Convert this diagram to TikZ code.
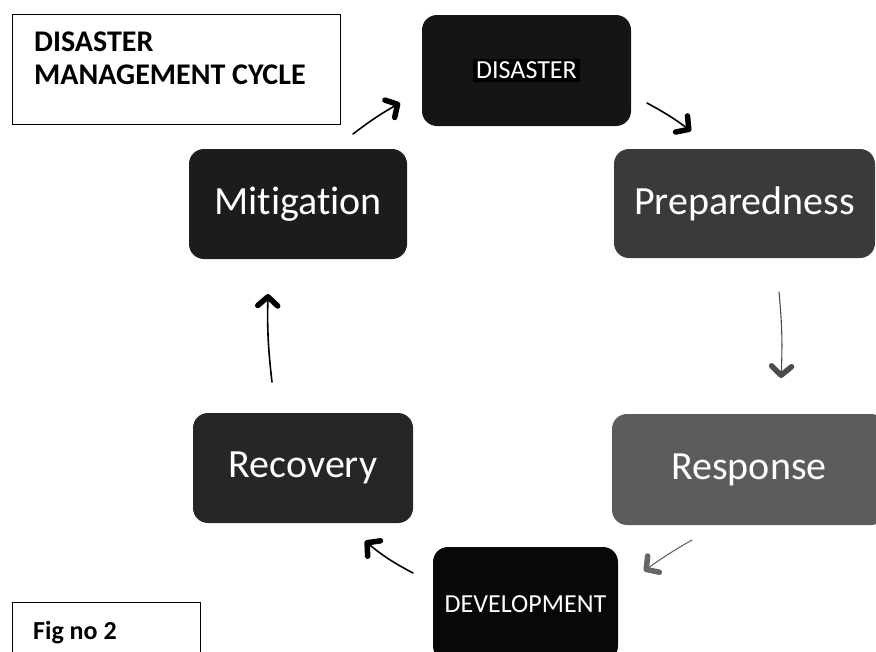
\documentclass[tikz,border=0pt]{standalone}
\usepackage{fontspec}
\setmainfont{Carlito}[Ligatures=NoCommon]
\usetikzlibrary{arrows.meta}
\definecolor{boxA}{HTML}{151515}
\definecolor{boxB}{HTML}{3A3A3A}
\definecolor{boxC}{HTML}{5C5C5C}
\definecolor{boxD}{HTML}{1C1C1C}
\definecolor{boxE}{HTML}{262626}
\definecolor{boxF}{HTML}{080808}
\tikzset{
  phase/.style={rounded corners=15pt, inner sep=0pt, text=white,
    font=\fontsize{40pt}{48pt}\selectfont},
  smallphase/.style={phase, font=\fontsize{26pt}{31pt}\selectfont},
  cyc/.style={line width=1.6pt, line cap=round,
    -{Straight Barb[length=9pt,width=20pt,line width=5.5pt,round]}},
  frame/.style={draw, line width=1.4pt, inner sep=0pt, anchor=north west},
  caption/.style={inner sep=0pt, font=\fontsize{30pt}{33pt}\selectfont\bfseries}
}
\begin{document}
\begin{tikzpicture}[x=1pt,y=-1pt]
\useasboundingbox (0,0) rectangle (876,651);

% title and figure label
\node[frame, minimum width=328pt, minimum height=110pt] (titlebox) at (12,14) {};
\node[caption, anchor=north west, align=left] (titletext) at (34,32) {DISASTER\\MANAGEMENT CYCLE};
\node[frame, minimum width=188pt, minimum height=80pt] (figbox) at (12,602) {};
\node[caption, anchor=base west, font=\fontsize{26pt}{31pt}\selectfont\bfseries] (figtext) at (33,639) {Fig no 2};

% the six phases
\node[smallphase, fill=boxA, minimum width=209pt, minimum height=111pt] (dis) at (526.5,70.5)
  {\colorbox{black}{DISASTER}};
\node[phase, fill=boxB, minimum width=261pt, minimum height=109pt] (prep) at (744.5,203.5) {Preparedness};
\node[phase, fill=boxC, minimum width=274pt, minimum height=111pt] (resp) at (749,469.5) {Response};
\node[smallphase, fill=boxF, minimum width=185pt, minimum height=114pt] (dev) at (525.5,604) {DEVELOPMENT};
\node[phase, fill=boxE, minimum width=220pt, minimum height=110pt] (rec) at (303,468) {Recovery};
\node[phase, fill=boxD, minimum width=218pt, minimum height=110pt] (mit) at (298,204) {Mitigation};

% arrow end points
\coordinate (m1) at (353,134);  \coordinate (d1) at (400,103);
\coordinate (d2) at (647,103);  \coordinate (p1) at (691,131);
\coordinate (p2) at (779,292);  \coordinate (r1) at (781,378);
\coordinate (r2) at (692,540);  \coordinate (v1) at (644,571);
\coordinate (v2) at (413,573);  \coordinate (c1) at (365,541);
\coordinate (c2) at (272,382);  \coordinate (m2) at (268,294);

% cycle arrows
\draw[cyc] (m1) to[bend left=4] (d1);
\draw[cyc] (d2) to[bend left=4] (p1);
\draw[cyc, draw=black!70, line width=1.1pt] (p2) to[bend left=4] (r1);
\draw[cyc, draw=black!60, line width=1.1pt] (r2) to[bend right=3] (v1);
\draw[cyc] (v2) to[bend left=6] (c1);
\draw[cyc] (c2) to[bend left=4] (m2);
\end{tikzpicture}
\end{document}
